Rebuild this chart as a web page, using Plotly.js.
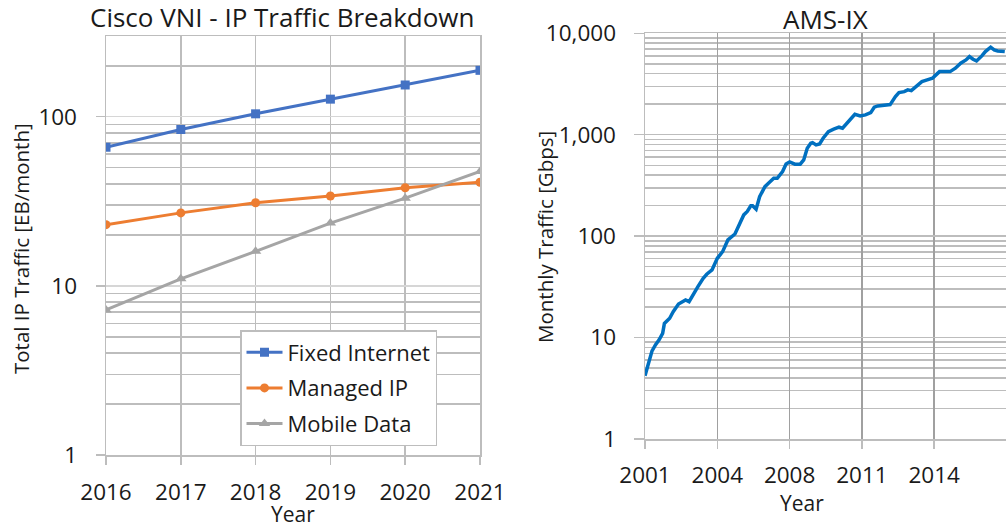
<!DOCTYPE html>
<html>
<head>
<meta charset="utf-8">
<script src="https://cdn.plot.ly/plotly-3.0.1.min.js"></script>
<style>html,body{margin:0;padding:0;background:#fff}#chart{width:1006px;height:528px}</style>
</head>
<body>
<div id="chart"></div>
<script>
// ---- Cisco VNI data (EB/month) ----
const ciscoYears = [2016, 2017, 2018, 2019, 2020, 2021];
const fixedInternet = [66, 84, 104, 127, 154, 188];
const managedIP = [23, 27, 31, 34, 38, 41];
const mobileData = [7.2, 11, 16, 23.5, 33, 47.5];

// ---- AMS-IX monthly traffic (Gbps), month index from Jan 2001 ----
const amsMonth = [0,2,4,6,8,10,11,14,16,19,
  23,25,27,30,33,35,38,41,44,47,
  51,54,56,58,60,61,63,65,68,70,
  73,75,78,80,82,85,88,90,92,94,
  95,97,99,101,104,107,110,112,114,117,
  119,122,125,128,130,132,135,139,142,144,
  147,149,151,154,157,160,163,165,167,170,
  173,176,179,182,184,186,188,191,193,196,
  198,200,204];
const amsGbps = [4.2,5.6,7.4,8.5,9.5,11,13.8,15.5,18,21.4,
  23.5,22.6,26.3,31.8,38.4,42.1,46.4,60.5,70.3,91.8,
  105,134,162,175,199,199,184,245,308,332,
  372,372,433,515,539,512,512,564,736,824,
  836,793,812,923,1073,1133,1186,1159,1278,1455,
  1592,1532,1567,1652,1867,1923,1954,1981,2376,2600,
  2661,2767,2723,3028,3341,3468,3606,3890,4190,4190,
  4190,4529,5071,5466,5891,5555,5343,5986,6600,7295,
  6857,6703,6600];
const amsTickMonth = [0, 41, 82, 123, 164];
const amsTickLabels = ['2001', '2004', '2008', '2011', '2014'];
const amsYTicks = [1, 10, 100, 1000, 10000];
const amsYLabels = ['1', '10', '100', '1,000', '10,000'];
const ciscoYTicks = [1, 10, 100];
const ciscoYLabels = ['1', '10', '100'];

function minorVals(lo, hi) {
  const v = [];
  for (let d = lo; d < hi; d *= 10) for (let k = 2; k <= 9; k++) v.push(k * d);
  return v;
}

const W = 1006, H = 528;
const px = x => x / W;
const py = y => 1 - y / H;
const FONT = '"Open Sans", "Noto Sans", sans-serif';
const TXT = '#1a1a1a';
const GRID = '#bdbdbd';

const traces = [
  {x: ciscoYears, y: fixedInternet, name: 'Fixed Internet', type: 'scatter', mode: 'lines+markers',
   line: {color: '#4472C4', width: 3}, marker: {symbol: 'square', size: 9, color: '#4472C4'},
   xaxis: 'x', yaxis: 'y', legendgroup: 'a'},
  {x: ciscoYears, y: managedIP, name: 'Managed IP', type: 'scatter', mode: 'lines+markers',
   line: {color: '#ED7D31', width: 3}, marker: {symbol: 'circle', size: 9, color: '#ED7D31'},
   xaxis: 'x', yaxis: 'y', legendgroup: 'b'},
  {x: ciscoYears, y: mobileData, name: 'Mobile Data', type: 'scatter', mode: 'lines+markers',
   line: {color: '#A5A5A5', width: 3}, marker: {symbol: 'triangle-up', size: 10, color: '#A5A5A5'},
   xaxis: 'x', yaxis: 'y', legendgroup: 'c'},
  {x: amsMonth, y: amsGbps, name: 'AMS-IX', type: 'scatter', mode: 'lines',
   line: {color: '#0070C0', width: 3.5}, xaxis: 'x2', yaxis: 'y2', showlegend: false}
];

const tickFont = {family: FONT, size: 22.5, color: TXT};

const layout = {
  width: W, height: H,
  margin: {l: 0, r: 0, t: 0, b: 0},
  paper_bgcolor: '#fff', plot_bgcolor: '#fff',
  font: {family: FONT, color: TXT},
  showlegend: true,
  legend: {x: px(240), y: py(330), xanchor: 'left', yanchor: 'top',
    bordercolor: GRID, borderwidth: 1.5, bgcolor: '#fff',
    font: {family: FONT, size: 22, color: TXT}, tracegroupgap: 4, itemwidth: 36},
  xaxis: {domain: [px(106), px(480)], anchor: 'y', range: [2016, 2021],
    tickvals: ciscoYears, ticktext: ciscoYears.map(String),
    showgrid: true, gridcolor: GRID, gridwidth: 1.5,
    ticks: 'outside', ticklen: 8, tickcolor: GRID, tickwidth: 1.5,
    showline: true, mirror: true, linecolor: GRID, linewidth: 1.5,
    zeroline: false, tickfont: tickFont, ticklabelstandoff: 8},
  yaxis: {domain: [py(455), py(36)], anchor: 'x', type: 'log', range: [0, Math.log10(300)],
    tickvals: ciscoYTicks, ticktext: ciscoYLabels,
    showgrid: true, gridcolor: '#d6d6d6', gridwidth: 1.5,
    minor: {tickvals: minorVals(1, 1000).filter(v => v <= 300), showgrid: true, gridcolor: GRID, gridwidth: 1.5, ticks: ''},
    ticks: 'outside', ticklen: 9, tickcolor: GRID, tickwidth: 1.5,
    showline: true, mirror: true, linecolor: GRID, linewidth: 1.5,
    zeroline: false, tickfont: tickFont, ticklabelstandoff: 14},
  xaxis2: {domain: [px(645), 1], anchor: 'y2', range: [0, 204.7],
    tickvals: amsTickMonth, ticktext: amsTickLabels,
    showgrid: true, gridcolor: '#a0a0a0', gridwidth: 1.5,
    ticks: 'outside', ticklen: 8, tickcolor: GRID, tickwidth: 1.5,
    showline: true, mirror: true, linecolor: GRID, linewidth: 1.5,
    zeroline: false, tickfont: tickFont, ticklabelstandoff: 7},
  yaxis2: {domain: [py(439), py(33.3)], anchor: 'x2', type: 'log', range: [0, 4],
    tickvals: amsYTicks, ticktext: amsYLabels,
    showgrid: true, gridcolor: GRID, gridwidth: 1.5,
    minor: {tickvals: minorVals(1, 10000), showgrid: true, gridcolor: GRID, gridwidth: 1.5, ticks: ''},
    ticks: 'outside', ticklen: 10, tickcolor: GRID, tickwidth: 1.5,
    showline: true, mirror: true, linecolor: GRID, linewidth: 1.5,
    zeroline: false, tickfont: tickFont, ticklabelstandoff: 13},
  annotations: [
    {text: 'Cisco VNI - IP Traffic Breakdown', x: px(282), y: py(17), xref: 'paper', yref: 'paper',
     xanchor: 'center', yanchor: 'middle', showarrow: false, font: {family: FONT, size: 26, color: TXT}},
    {text: 'AMS-IX', x: px(825.5), y: py(19), xref: 'paper', yref: 'paper',
     xanchor: 'center', yanchor: 'middle', showarrow: false, font: {family: FONT, size: 26, color: TXT}},
    {text: 'Total IP Traffic [EB/month]', x: px(21), y: py(249), xref: 'paper', yref: 'paper',
     xanchor: 'center', yanchor: 'middle', textangle: -90, showarrow: false, font: {family: FONT, size: 20.5, color: TXT}},
    {text: 'Monthly Traffic [Gbps]', x: px(545), y: py(237), xref: 'paper', yref: 'paper',
     xanchor: 'center', yanchor: 'middle', textangle: -90, showarrow: false, font: {family: FONT, size: 20.5, color: TXT}},
    {text: 'Year', x: px(292.5), y: py(514), xref: 'paper', yref: 'paper',
     xanchor: 'center', yanchor: 'middle', showarrow: false, font: {family: FONT, size: 21, color: TXT}},
    {text: 'Year', x: px(802), y: py(503), xref: 'paper', yref: 'paper',
     xanchor: 'center', yanchor: 'middle', showarrow: false, font: {family: FONT, size: 21, color: TXT}}
  ]
};

Plotly.newPlot('chart', traces, layout, {staticPlot: true, displayModeBar: false});
</script>
</body>
</html>
